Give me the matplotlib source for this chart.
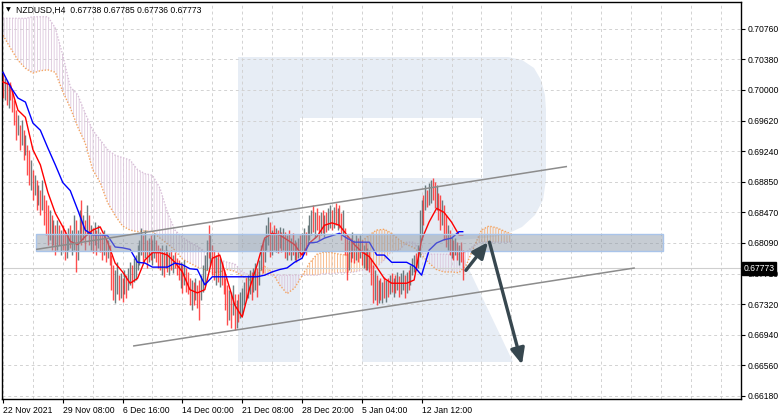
import numpy as np
import matplotlib
matplotlib.use("Agg")
import matplotlib.pyplot as plt
from matplotlib.patches import Polygon, Rectangle
from matplotlib.ticker import MultipleLocator, FixedLocator
import matplotlib.transforms as mtransforms

plt.rcParams['font.family'] = ['Liberation Sans', 'DejaVu Sans']
plt.rcParams['hatch.linewidth'] = 0.6

# ---------------- data ----------------
highs = [
    0.7021, 0.7014, 0.7011, 0.7005, 0.7009, 0.6999, 0.6987, 0.6974, 0.6968, 0.6956,
    0.6962, 0.6949, 0.6943, 0.6931, 0.6925, 0.6912, 0.6900, 0.6894, 0.6887, 0.6881,
    0.6875, 0.6887, 0.6869, 0.6862, 0.6856, 0.6850, 0.6844, 0.6838, 0.6831, 0.6838,
    0.6831, 0.6825, 0.6831, 0.6825, 0.6819, 0.6828, 0.6831, 0.6825, 0.6844, 0.6838,
    0.6825, 0.6850, 0.6862, 0.6844, 0.6838, 0.6856, 0.6844, 0.6831, 0.6828, 0.6835,
    0.6825, 0.6831, 0.6823, 0.6819, 0.6825, 0.6815, 0.6813, 0.6807, 0.6794, 0.6782,
    0.6776, 0.6785, 0.6769, 0.6772, 0.6765, 0.6776, 0.6769, 0.6778, 0.6785, 0.6782,
    0.6790, 0.6794, 0.6807, 0.6813, 0.6828, 0.6819, 0.6825, 0.6813, 0.6815, 0.6819,
    0.6813, 0.6822, 0.6813, 0.6807, 0.6803, 0.6807, 0.6800, 0.6807, 0.6800, 0.6798,
    0.6800, 0.6794, 0.6798, 0.6790, 0.6788, 0.6785, 0.6782, 0.6788, 0.6778, 0.6773,
    0.6765, 0.6763, 0.6760, 0.6765, 0.6757, 0.6763, 0.6769, 0.6782, 0.6794, 0.6813,
    0.6831, 0.6819, 0.6807, 0.6800, 0.6794, 0.6798, 0.6790, 0.6785, 0.6776, 0.6765,
    0.6757, 0.6751, 0.6748, 0.6757, 0.6745, 0.6738, 0.6745, 0.6748, 0.6753, 0.6760,
    0.6765, 0.6769, 0.6776, 0.6773, 0.6778, 0.6784, 0.6778, 0.6788, 0.6807, 0.6813,
    0.6815, 0.6831, 0.6841, 0.6835, 0.6825, 0.6831, 0.6828, 0.6825, 0.6829, 0.6823,
    0.6828, 0.6823, 0.6819, 0.6825, 0.6815, 0.6822, 0.6813, 0.6810, 0.6815, 0.6819,
    0.6822, 0.6828, 0.6823, 0.6831, 0.6844, 0.6850, 0.6856, 0.6848, 0.6853, 0.6844,
    0.6848, 0.6850, 0.6844, 0.6848, 0.6853, 0.6856, 0.6850, 0.6854, 0.6859, 0.6853,
    0.6856, 0.6846, 0.6850, 0.6828, 0.6819, 0.6813, 0.6815, 0.6823, 0.6813, 0.6819,
    0.6815, 0.6819, 0.6813, 0.6807, 0.6810, 0.6803, 0.6800, 0.6790, 0.6782, 0.6776,
    0.6769, 0.6763, 0.6765, 0.6760, 0.6767, 0.6763, 0.6765, 0.6769, 0.6772, 0.6765,
    0.6769, 0.6773, 0.6768, 0.6772, 0.6776, 0.6769, 0.6773, 0.6776, 0.6782, 0.6790,
    0.6794, 0.6797, 0.6807, 0.6850, 0.6862, 0.6869, 0.6881, 0.6875, 0.6884, 0.6887,
    0.6890, 0.6885, 0.6881, 0.6871, 0.6869, 0.6862, 0.6856, 0.6844, 0.6831, 0.6825,
    0.6816, 0.6813, 0.6815, 0.6810, 0.6807, 0.6810, 0.6800,
]
lows = [
    0.6989, 0.6987, 0.6980, 0.6977, 0.6987, 0.6972, 0.6956, 0.6937, 0.6943, 0.6925,
    0.6931, 0.6912, 0.6918, 0.6894, 0.6881, 0.6875, 0.6862, 0.6869, 0.6850, 0.6856,
    0.6844, 0.6850, 0.6831, 0.6819, 0.6807, 0.6813, 0.6800, 0.6807, 0.6794, 0.6800,
    0.6807, 0.6794, 0.6800, 0.6788, 0.6790, 0.6800, 0.6803, 0.6794, 0.6800, 0.6773,
    0.6788, 0.6813, 0.6807, 0.6813, 0.6800, 0.6819, 0.6807, 0.6800, 0.6797, 0.6807,
    0.6794, 0.6803, 0.6798, 0.6788, 0.6794, 0.6785, 0.6790, 0.6782, 0.6751, 0.6738,
    0.6735, 0.6745, 0.6738, 0.6741, 0.6736, 0.6745, 0.6741, 0.6751, 0.6757, 0.6753,
    0.6761, 0.6763, 0.6776, 0.6782, 0.6794, 0.6785, 0.6790, 0.6778, 0.6785, 0.6788,
    0.6782, 0.6790, 0.6785, 0.6778, 0.6776, 0.6769, 0.6767, 0.6778, 0.6773, 0.6769,
    0.6776, 0.6772, 0.6778, 0.6769, 0.6763, 0.6753, 0.6747, 0.6757, 0.6748, 0.6745,
    0.6732, 0.6726, 0.6732, 0.6738, 0.6728, 0.6713, 0.6738, 0.6748, 0.6757, 0.6776,
    0.6790, 0.6782, 0.6769, 0.6763, 0.6757, 0.6760, 0.6754, 0.6757, 0.6745, 0.6726,
    0.6707, 0.6713, 0.6703, 0.6720, 0.6701, 0.6703, 0.6711, 0.6716, 0.6720, 0.6732,
    0.6738, 0.6741, 0.6745, 0.6738, 0.6748, 0.6751, 0.6742, 0.6757, 0.6776, 0.6772,
    0.6785, 0.6800, 0.6807, 0.6792, 0.6794, 0.6800, 0.6798, 0.6797, 0.6803, 0.6798,
    0.6800, 0.6790, 0.6788, 0.6794, 0.6788, 0.6794, 0.6788, 0.6785, 0.6790, 0.6792,
    0.6794, 0.6800, 0.6794, 0.6807, 0.6813, 0.6819, 0.6823, 0.6815, 0.6825, 0.6813,
    0.6819, 0.6822, 0.6817, 0.6823, 0.6825, 0.6828, 0.6825, 0.6828, 0.6831, 0.6825,
    0.6828, 0.6813, 0.6819, 0.6794, 0.6763, 0.6776, 0.6785, 0.6790, 0.6784, 0.6788,
    0.6785, 0.6790, 0.6782, 0.6778, 0.6776, 0.6776, 0.6773, 0.6757, 0.6735, 0.6738,
    0.6732, 0.6735, 0.6738, 0.6735, 0.6741, 0.6736, 0.6742, 0.6745, 0.6748, 0.6742,
    0.6747, 0.6751, 0.6742, 0.6745, 0.6751, 0.6741, 0.6747, 0.6751, 0.6757, 0.6769,
    0.6773, 0.6776, 0.6778, 0.6792, 0.6813, 0.6831, 0.6850, 0.6854, 0.6856, 0.6859,
    0.6862, 0.6853, 0.6850, 0.6838, 0.6825, 0.6831, 0.6813, 0.6804, 0.6800, 0.6794,
    0.6790, 0.6788, 0.6794, 0.6788, 0.6782, 0.6785, 0.6763,
]
# 1 = bullish (grey bar), 0 = bearish (red bar)
up_flags = [
    0, 1, 0, 1, 0, 0, 0, 0, 1, 0, 1, 0, 1, 0, 0, 1, 0, 1, 0, 1,
    0, 1, 0, 0, 0, 1, 0, 1, 0, 1, 0, 1, 0, 0, 1, 1, 0, 1, 1, 0,
    1, 1, 0, 1, 0, 1, 0, 1, 0, 1, 0, 1, 0, 0, 1, 0, 1, 0, 0, 0,
    1, 1, 0, 1, 0, 1, 0, 1, 1, 0, 1, 1, 1, 1, 1, 0, 1, 0, 1, 0,
    1, 1, 0, 0, 0, 1, 0, 1, 0, 1, 0, 1, 0, 0, 0, 1, 0, 1, 0, 0,
    0, 1, 0, 1, 0, 0, 1, 1, 1, 1, 0, 1, 0, 0, 1, 0, 1, 0, 0, 0,
    0, 1, 0, 1, 0, 1, 0, 1, 1, 1, 0, 1, 1, 0, 1, 1, 0, 1, 1, 0,
    1, 1, 1, 0, 1, 0, 1, 0, 1, 0, 1, 0, 1, 0, 1, 0, 1, 0, 1, 0,
    1, 1, 0, 1, 1, 1, 0, 1, 0, 0, 1, 0, 1, 0, 1, 1, 0, 1, 0, 1,
    0, 0, 1, 0, 0, 1, 0, 1, 0, 1, 0, 1, 0, 1, 0, 1, 0, 0, 0, 1,
    0, 1, 0, 1, 0, 1, 0, 1, 0, 1, 0, 1, 0, 1, 1, 0, 1, 0, 1, 1,
    1, 0, 1, 1, 1, 0, 1, 0, 1, 1, 0, 0, 1, 0, 0, 1, 0, 0, 1, 0,
    1, 0, 1, 0, 1, 0, 0,
]

# Ichimoku lines, one value every 4 bars
tenkan = [
    0.7009, 0.7005, 0.6974, 0.6965, 0.6925, 0.6906, 0.6872, 0.6846, 0.6829, 0.6811,
    0.6807, 0.6817, 0.6825, 0.6829, 0.6810, 0.6784, 0.6773, 0.6759, 0.6765, 0.6788,
    0.6797, 0.6797, 0.6794, 0.6785, 0.6773, 0.6751, 0.6747, 0.6751, 0.6790, 0.6794,
    0.6763, 0.6732, 0.6717, 0.6753, 0.6782, 0.6815, 0.6821, 0.6819, 0.6813, 0.6807,
    0.6794, 0.6809, 0.6817, 0.6831, 0.6834, 0.6831, 0.6819, 0.6807, 0.6798, 0.6792,
    0.6779, 0.6765, 0.6759, 0.6759, 0.6759, 0.6763, 0.6813, 0.6835, 0.6852, 0.6847,
    0.6835, 0.6819,
]
kijun = [
    0.7021, 0.7003, 0.6989, 0.6984, 0.6958, 0.6949, 0.6927, 0.6906, 0.6884, 0.6874,
    0.6850, 0.6825, 0.6819, 0.6819, 0.6818, 0.6804, 0.6803, 0.6801, 0.6785, 0.6784,
    0.6779, 0.6779, 0.6779, 0.6784, 0.6782, 0.6777, 0.6776, 0.6757, 0.6767, 0.6767,
    0.6767, 0.6767, 0.6767, 0.6767, 0.6767, 0.6769, 0.6773, 0.6776, 0.6778, 0.6785,
    0.6790, 0.6809, 0.6810, 0.6815, 0.6818, 0.6821, 0.6815, 0.6810, 0.6810, 0.6810,
    0.6794, 0.6794, 0.6785, 0.6785, 0.6785, 0.6780, 0.6769, 0.6800, 0.6809, 0.6813,
    0.6815, 0.6823,
]
span_a = [
    0.7067, 0.7051, 0.7036, 0.7026, 0.7020, 0.7023, 0.7024, 0.7021, 0.6997, 0.6977,
    0.6953, 0.6933, 0.6900, 0.6884, 0.6859, 0.6843, 0.6830, 0.6825, 0.6823, 0.6824,
    0.6823, 0.6815, 0.6808, 0.6800, 0.6789, 0.6784, 0.6779, 0.6776, 0.6772, 0.6773,
    0.6776, 0.6774, 0.6768, 0.6763, 0.6769, 0.6780, 0.6773, 0.6757, 0.6746, 0.6753,
    0.6768, 0.6784, 0.6795, 0.6798, 0.6797, 0.6795, 0.6794, 0.6800, 0.6811, 0.6819,
    0.6825, 0.6826, 0.6821, 0.6813, 0.6807, 0.6803, 0.6794, 0.6784, 0.6776, 0.6773,
    0.6773, 0.6772, 0.6782, 0.6804, 0.6825, 0.6830, 0.6828, 0.6824, 0.6820,
]
span_b = [
    0.7088, 0.7088, 0.7088, 0.7088, 0.7090, 0.7090, 0.7090, 0.7076, 0.7042, 0.7003,
    0.6993, 0.6970, 0.6949, 0.6937, 0.6925, 0.6918, 0.6915, 0.6912, 0.6900, 0.6895,
    0.6893, 0.6877, 0.6847, 0.6825, 0.6816, 0.6810, 0.6805, 0.6798, 0.6792, 0.6788,
    0.6785, 0.6783, 0.6773, 0.6769, 0.6769, 0.6769, 0.6769, 0.6769, 0.6769, 0.6769,
    0.6769, 0.6769, 0.6769, 0.6771, 0.6771, 0.6772, 0.6772, 0.6773, 0.6775, 0.6778,
    0.6779, 0.6788, 0.6799, 0.6800, 0.6810, 0.6810, 0.6797, 0.6795, 0.6795, 0.6795,
    0.6795, 0.6795, 0.6798, 0.6806, 0.6810, 0.6810, 0.6810, 0.6810, 0.6810,
]
line_step = 4

# analyst drawings (bar index, price)
zone_bars = [17.7, 353.0]
zone_prices = [0.6799, 0.6820]
upper_channel = [(17.7, 0.6801), (301.8, 0.6904)]
lower_channel = [(69.6, 0.6681), (338.1, 0.6778)]
arrow_up = [(247.7, 0.6775), (259.5, 0.6810)]
arrow_down = [(260.3, 0.6810), (277.7, 0.6658)]

last_price = 0.67773
header = "NZDUSD,H4  0.67738 0.67785 0.67736 0.67773"

xtick_bars = [0, 32, 64, 96, 128, 160, 192, 224]
xtick_labels = ['22 Nov 2021', '29 Nov 08:00', '6 Dec 16:00', '14 Dec 00:00',
                '21 Dec 08:00', '28 Dec 20:00', '5 Jan 04:00', '12 Jan 12:00']
ytick_vals = [0.7075, 0.7037, 0.6999, 0.6961, 0.6923, 0.6885, 0.6847,
              0.6809, 0.6771, 0.6733, 0.6695, 0.6657, 0.6619]
ytick_labels = ['0.70760', '0.70380', '0.70000', '0.69620', '0.69240', '0.68850',
                '0.68470', '0.68090', '0.67710', '0.67320', '0.66940', '0.66560',
                '0.66180']

# ---------------- figure ----------------
W, H = 782, 419
fig = plt.figure(figsize=(W / 100, H / 100), dpi=100)
fig.patch.set_facecolor('white')
ax = fig.add_axes([2 / W, 20 / H, 739 / W, 397 / H])
ax.set_facecolor('white')
ax.set_xlim(-0.53, 394.9)
ax.set_ylim(0.66152, 0.71083)

# watermark logo (figure pixel coordinates, top-left origin)
logo_px = [(238, 57), (508, 57), (522, 60), (534, 68), (541, 80), (545, 95),
           (546, 110), (546, 180), (543, 200), (535, 215), (522, 227), (505, 235),
           (485, 238), (455, 240), (513, 362), (362, 362), (362, 178), (483, 178),
           (483, 118), (300, 118), (300, 362), (238, 362)]
logo = Polygon([(x / W, 1 - y / H) for x, y in logo_px], closed=True,
               transform=fig.transFigure, facecolor='#e7edf5', edgecolor='none',
               zorder=0)
ax.add_patch(logo)

# grid
ax.set_axisbelow(True)
ax.xaxis.set_major_locator(FixedLocator(xtick_bars))
ax.xaxis.set_minor_locator(MultipleLocator(16))
ax.set_xticklabels(xtick_labels)
ax.yaxis.set_major_locator(FixedLocator(ytick_vals))
ax.set_yticklabels(ytick_labels)
ax.grid(True, axis='x', which='both', color='#d2d2d2', ls=(0, (3, 3)), lw=0.7)
ax.grid(True, axis='y', which='major', color='#d2d2d2', ls=(0, (3, 3)), lw=0.7)

# Ichimoku cloud
sx = np.arange(len(span_a)) * line_step
sa = np.array(span_a)
sb = np.array(span_b)
ax.fill_between(sx, sa, sb, where=sa >= sb, interpolate=True, facecolor='none',
                edgecolor='#f6b07a', hatch='||||||', lw=0, zorder=1)
ax.fill_between(sx, sa, sb, where=sa < sb, interpolate=True, facecolor='none',
                edgecolor='#dcc6dc', hatch='||||||', lw=0, zorder=1)
ax.plot(sx, sa, color='#f4a460', lw=1.0, ls=(0, (1, 1.2)), zorder=1.2)
ax.plot(sx, sb, color='#d8bfd8', lw=1.0, ls=(0, (1, 1.2)), zorder=1.2)

# price bars
n = len(highs)
idx = np.arange(n)
hi = np.array(highs)
lo = np.array(lows)
up = np.array(up_flags, dtype=bool)
ax.vlines(idx[up], lo[up], hi[up], color='#53676a', lw=1.0, alpha=0.85, zorder=2)
ax.vlines(idx[~up], lo[~up], hi[~up], color='#ff2222', lw=1.0, alpha=0.8, zorder=2)

# tenkan / kijun
tx = np.append(np.arange(len(tenkan)) * line_step, n - 1)
ax.plot(tx, np.append(tenkan, tenkan[-1]), color='#ff0000', lw=1.0, zorder=3)
ax.plot(tx, np.append(kijun, kijun[-1]), color='#0000ff', lw=1.0, zorder=3)

# current price line
ax.axhline(last_price, color='#cfcfcf', lw=0.8, zorder=1.5)

# resistance zone
zone = Rectangle((zone_bars[0], zone_prices[0]), zone_bars[1] - zone_bars[0],
                 zone_prices[1] - zone_prices[0], facecolor='#8e9aa8', alpha=0.5,
                 edgecolor='none', zorder=3.5)
ax.add_patch(zone)
zone_edge = Rectangle((zone_bars[0], zone_prices[0]), zone_bars[1] - zone_bars[0],
                      zone_prices[1] - zone_prices[0], facecolor='none',
                      edgecolor='#a9c4ea', lw=1.0, zorder=3.6)
ax.add_patch(zone_edge)

# channel
for pts in (upper_channel, lower_channel):
    ax.plot([pts[0][0], pts[1][0]], [pts[0][1], pts[1][1]], color='#8c8c8c',
            lw=1.1, zorder=4, solid_capstyle='butt')

# arrows
for a in (arrow_up, arrow_down):
    ax.annotate('', xy=a[1], xytext=a[0],
                arrowprops=dict(arrowstyle='-|>,head_length=0.95,head_width=0.42',
                                color='#37474f', lw=2.4, shrinkA=0, shrinkB=0,
                                mutation_scale=10),
                zorder=5)

# axes styling
for s in ax.spines.values():
    s.set_color('black')
    s.set_linewidth(1.0)
ax.yaxis.tick_right()
ax.tick_params(axis='y', which='major', length=3, width=0.8, pad=2,
               labelsize=6.2, colors='black')
ax.tick_params(axis='x', which='major', length=3, width=0.8, pad=2,
               labelsize=6.2, colors='black')
ax.tick_params(axis='both', which='minor', length=0)
for lbl in ax.get_xticklabels():
    lbl.set_horizontalalignment('left')

# last price tag
trans = mtransforms.blended_transform_factory(ax.transAxes, ax.transData)
ax.text(1.003, last_price, f"{last_price:.5f}", transform=trans, color='white',
        fontsize=6.2, va='center', ha='left', zorder=10, clip_on=False,
        bbox=dict(boxstyle='square,pad=0.18', facecolor='black', edgecolor='black'))

# header
fig.text(6 / W, 1 - 10 / H, '\u25BC', fontsize=4.5, va='center', ha='left',
         family=['DejaVu Sans'])
fig.text(16 / W, 1 - 10 / H, header, fontsize=6.2, va='center', ha='left')

fig.savefig('out.png', dpi=100, facecolor='white')
